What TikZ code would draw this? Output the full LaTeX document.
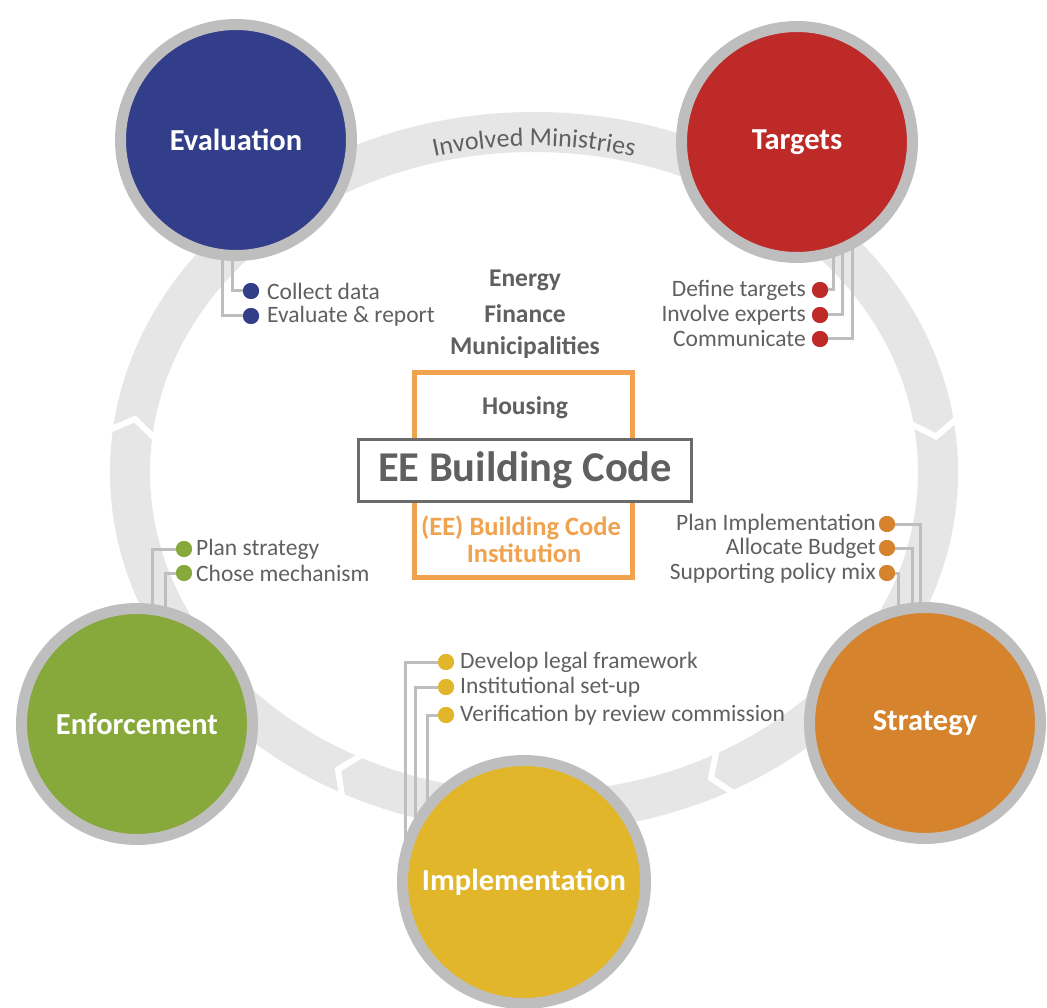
\documentclass[tikz,border=0pt]{standalone}
\usepackage{fontspec}
\setmainfont{Carlito}
\usetikzlibrary{decorations.text}
\definecolor{ringgray}{HTML}{E6E6E6}
\definecolor{bordgray}{HTML}{BEBEBE}
\definecolor{txtgray}{HTML}{606060}
\definecolor{cblue}{HTML}{323E8A}
\definecolor{cred}{HTML}{BE2A28}
\definecolor{corange}{HTML}{D5832C}
\definecolor{cyellow}{HTML}{E2B62A}
\definecolor{cgreen}{HTML}{87A83A}
\definecolor{boxorange}{HTML}{F0A24E}
\definecolor{codegray}{HTML}{6B6B6B}
\begin{document}
\begin{tikzpicture}[x=1pt,y=1pt,
  phase/.style={circle, draw=bordgray, line width=11pt, minimum size=231pt, inner sep=0pt,
    text=white, font=\fontsize{30.5}{34}\selectfont\bfseries},
  conn/.style={draw=bordgray, line width=3pt},
  bul/.style={circle, minimum size=16pt, inner sep=0pt},
  lbl/.style={text=txtgray, font=\fontsize{23.5}{27}\selectfont, inner sep=0pt},
  ctr/.style={text=txtgray, font=\fontsize{25.5}{30}\selectfont\bfseries, inner sep=0pt},
  chev/.style={draw=white, line width=6pt, line join=miter}
]
\useasboundingbox (0,0) rectangle (1047,-1008);
\fill[white] (0,0) rectangle (1047,-1008);

% ring
\draw[ringgray, line width=40pt] (534,-472) ellipse [x radius=404, y radius=340];
\foreach \px/\py/\ang in {135/-419/79.4, 936/-436.5/-82.9, 711/-778/202.3, 338/-769.4/155}{
  \begin{scope}[shift={(\px,\py)}, rotate=\ang]
    \draw[chev] (-18,27) -- (0,0) -- (-18,-27);
  \end{scope}
}
\path[decorate, decoration={text along path, text align=center,
   text={|\fontsize{26}{30}\selectfont\color{txtgray}|Involved Ministries}}]
   (534,-472) ++(125:394 and 326) arc[start angle=125, end angle=55, x radius=394, y radius=326];

% phase circle centres
\coordinate (evc) at (236,-140);
\coordinate (tac) at (797,-142);
\coordinate (stc) at (925,-723);
\coordinate (imc) at (524,-882);
\coordinate (enc) at (137,-724);

% bullets
\node[bul, fill=cblue] (e1) at (251,-291) {};
\node[bul, fill=cblue] (e2) at (251,-316) {};
\node[bul, fill=cred] (t1) at (820,-290) {};
\node[bul, fill=cred] (t2) at (820,-315) {};
\node[bul, fill=cred] (t3) at (820,-339) {};
\node[bul, fill=corange] (s1) at (887,-524) {};
\node[bul, fill=corange] (s2) at (887,-548) {};
\node[bul, fill=corange] (s3) at (887,-573) {};
\node[bul, fill=cgreen] (n1) at (184,-549) {};
\node[bul, fill=cgreen] (n2) at (184,-573) {};
\node[bul, fill=cyellow] (i1) at (446,-662) {};
\node[bul, fill=cyellow] (i2) at (446,-687) {};
\node[bul, fill=cyellow] (i3) at (446,-715) {};

% connectors (behind circles)
\draw[conn] (e1) -| ([xshift=-4pt]evc);
\draw[conn] (e2) -| ([xshift=-14pt]evc);
\draw[conn] (t1) -| ([xshift=36pt]tac);
\draw[conn] (t2) -| ([xshift=45pt]tac);
\draw[conn] (t3) -| ([xshift=55pt]tac);
\draw[conn] (s1) -| ([xshift=-5pt]stc);
\draw[conn] (s2) -| ([xshift=-13pt]stc);
\draw[conn] (s3) -| ([xshift=-27pt]stc);
\draw[conn] (n1) -| ([xshift=15pt]enc);
\draw[conn] (n2) -| ([xshift=28pt]enc);
\draw[conn] (i1) -| ([xshift=-119pt]imc);
\draw[conn] (i2) -| ([xshift=-109pt]imc);
\draw[conn] (i3) -| ([xshift=-97pt]imc);

% bullets on top of connectors
\foreach \b/\c in {e1/cblue,e2/cblue,t1/cred,t2/cred,t3/cred,s1/corange,s2/corange,s3/corange,n1/cgreen,n2/cgreen,i1/cyellow,i2/cyellow,i3/cyellow}
  \fill[\c] (\b) circle (8pt);

% circles
\node[phase, fill=cblue] (eval) at (evc) {Evaluation};
\node[phase, fill=cred] (targ) at (tac) {Targets};
\node[phase, fill=corange] (strat) at (stc) {Strategy};
\node[phase, fill=cyellow, minimum size=243pt] (impl) at (imc) {Implementation};
\node[phase, fill=cgreen] (enf) at (enc) {Enforcement};

% bullet labels
\node[lbl, anchor=west] (le1) at (267,-291) {Collect data};
\node[lbl, anchor=west] (le2) at (267,-316) {Evaluate \& report};
\node[lbl, anchor=east] (lt1) at (806,-290) {Define targets};
\node[lbl, anchor=east] (lt2) at (806,-315) {Involve experts};
\node[lbl, anchor=east] (lt3) at (806,-339) {Communicate};
\node[lbl, anchor=east] (ls1) at (876,-524) {Plan Implementation};
\node[lbl, anchor=east] (ls2) at (876,-548) {Allocate Budget};
\node[lbl, anchor=east] (ls3) at (876,-573) {Supporting policy mix};
\node[lbl, anchor=west] (ln1) at (196,-549) {Plan strategy};
\node[lbl, anchor=west] (ln2) at (196,-573) {Chose mechanism};
\node[lbl, anchor=west] (li1) at (460,-662) {Develop legal framework};
\node[lbl, anchor=west] (li2) at (460,-687) {Institutional set-up};
\node[lbl, anchor=west] (li3) at (460,-715) {Verification by review commission};

% centre
\node[ctr] (energy) at (525,-280) {Energy};
\node[ctr] (finance) at (525,-314) {Finance};
\node[ctr] (munic) at (525,-348) {Municipalities};
\node[draw=boxorange, line width=5pt, minimum width=218pt, minimum height=205pt, inner sep=0pt] (inst) at (523.5,-475) {};
\node[ctr] (housing) at (525,-408) {Housing};
\node[draw=codegray, fill=white, line width=3.3pt, minimum width=333pt, minimum height=62pt, inner sep=0pt,
   text=txtgray, font=\fontsize{42.5}{48}\selectfont\bfseries] (code) at (525,-470.5) {EE Building Code};
\node[ctr, text=boxorange, font=\fontsize{26.5}{30}\selectfont\bfseries] (instt1) at (521,-528) {(EE) Building Code};
\node[ctr, text=boxorange, font=\fontsize{26.5}{30}\selectfont\bfseries] (instt2) at (524,-553) {Institution};
\end{tikzpicture}
\end{document}
